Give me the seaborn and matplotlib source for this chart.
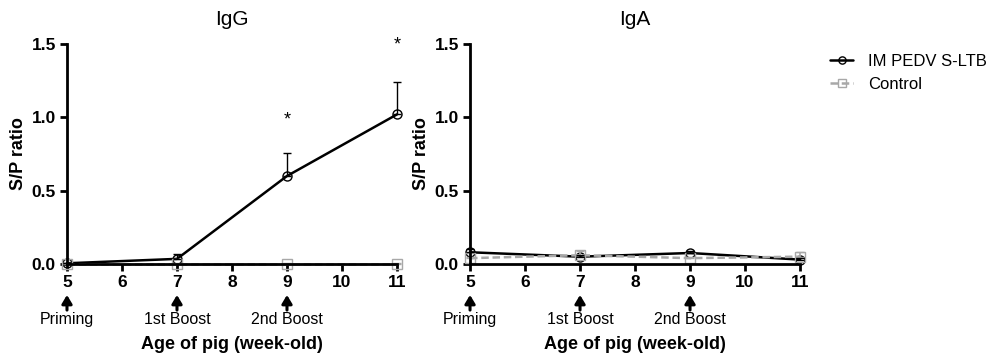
import matplotlib
matplotlib.use("Agg")
import matplotlib.pyplot as plt
import seaborn as sns
import numpy as np
import pandas as pd

weeks = [5, 7, 9, 11]
igg_vac = [0.005, 0.035, 0.60, 1.02]
igg_vac_err = [0.005, 0.03, 0.16, 0.22]
igg_ctrl = [0.0, 0.0, 0.0, 0.0]
igg_ctrl_err = [0.005, 0.005, 0.005, 0.005]
iga_vac = [0.08, 0.05, 0.075, 0.03]
iga_vac_err = [0.02, 0.01, 0.015, 0.01]
iga_ctrl = [0.04, 0.06, 0.04, 0.05]
iga_ctrl_err = [0.01, 0.03, 0.01, 0.03]
igg_stars = [9, 11]
igg_star_y = [0.98, 1.49]
events = ["Priming", "1st Boost", "2nd Boost"]
event_weeks = [5, 7, 9]
groups = ["IM PEDV S-LTB", "Control"]

sns.set_style("ticks")
plt.rcParams["font.family"] = ["Liberation Sans", "DejaVu Sans"]
plt.rcParams.update({"text.color": "black", "axes.labelcolor": "black",
                     "xtick.color": "black", "ytick.color": "black",
                     "axes.edgecolor": "black"})

fig = plt.figure(figsize=(9.91, 3.56), dpi=100)
ax1 = fig.add_axes([0.0676, 0.2584, 0.333, 0.618])
ax2 = fig.add_axes([0.4743, 0.2584, 0.333, 0.618])

panels = [
    (ax1, "IgG", igg_vac, igg_vac_err, igg_ctrl, igg_ctrl_err),
    (ax2, "IgA", iga_vac, iga_vac_err, iga_ctrl, iga_ctrl_err),
]

for ax, title, vac, vac_err, ctrl, ctrl_err in panels:
    df = pd.DataFrame({
        "week": weeks * 2,
        "sp": vac + ctrl,
        "group": [groups[0]] * 4 + [groups[1]] * 4,
    })
    sns.lineplot(data=df, x="week", y="sp", hue="group", style="group",
                 palette={groups[0]: "black", groups[1]: "#a8a8a8"},
                 dashes={groups[0]: "", groups[1]: (3, 1.5)},
                 markers={groups[0]: "o", groups[1]: "s"},
                 markersize=6.5, markeredgewidth=1.0,
                 linewidth=1.8, ax=ax, legend=(ax is ax2))
    for ln in ax.lines:
        ln.set_markerfacecolor("none")
        ln.set_markeredgecolor(ln.get_color())
        ln.set_clip_on(False)
    # upper-only error bars, drawn after the lines
    ax.errorbar(weeks, ctrl, yerr=[np.zeros(4), ctrl_err], fmt="none",
                ecolor="#a8a8a8", elinewidth=1.2, capsize=3, clip_on=False, zorder=2)
    ax.errorbar(weeks, vac, yerr=[np.zeros(4), vac_err], fmt="none",
                ecolor="black", elinewidth=1.0, capsize=3, clip_on=False, zorder=3)

    ax.set_xlim(5, 11)
    ax.set_ylim(0, 1.5)
    ax.set_xticks(range(5, 12))
    ax.set_yticks([0, 0.5, 1.0, 1.5])
    ax.set_yticklabels(["0.0", "0.5", "1.0", "1.5"])
    sns.despine(ax=ax)
    for s in ["left", "bottom"]:
        ax.spines[s].set_linewidth(2)
    ax.tick_params(width=2, length=5, labelsize=12.5, pad=3, direction="out")
    for lab in ax.get_xticklabels() + ax.get_yticklabels():
        lab.set_fontweight("bold")
    ax.set_title(title, fontsize=15, pad=14)
    ax.set_ylabel("S/P ratio", fontsize=13, fontweight="bold", labelpad=3)
    ax.set_xlabel("Age of pig (week-old)", fontsize=13, fontweight="bold")
    ax.xaxis.set_label_coords(0.5, -0.368)
    ax.xaxis.label.set_va("center")

    for wk, name in zip(event_weeks, events):
        ax.annotate("", xy=(wk, -0.211), xytext=(wk, -0.314),
                    arrowprops=dict(arrowstyle="-|>,head_width=0.3,head_length=0.5",
                                    color="black", lw=2.2, shrinkA=0, shrinkB=0),
                    annotation_clip=False)
        ax.text(wk, -0.375, name, ha="center", va="center", fontsize=11.5, clip_on=False)

for wk, y in zip(igg_stars, igg_star_y):
    ax1.text(wk, y, "*", ha="center", va="center", fontsize=13)

handles, labels = ax2.get_legend_handles_labels()
ax2.legend_.remove()
fig.legend(handles, labels, loc="upper left", bbox_to_anchor=(0.8224, 0.89),
           frameon=False, fontsize=12, handlelength=1.4, handletextpad=0.9,
           labelspacing=0.45, markerscale=0.8)

fig.savefig("out.png", dpi=100)
